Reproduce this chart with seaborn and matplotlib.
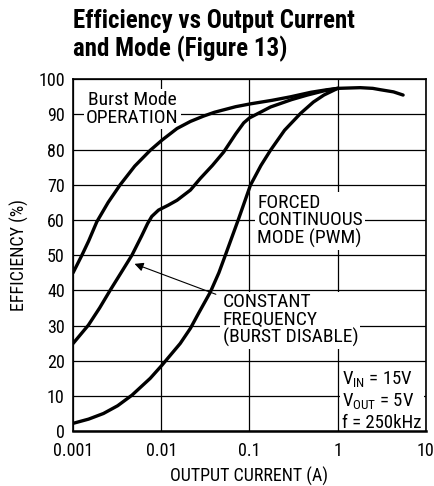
import matplotlib
matplotlib.use("Agg")
import matplotlib.pyplot as plt
import seaborn as sns
import pandas as pd

# Burst Mode operation
burst_x = [0.001, 0.00126, 0.0015, 0.00186, 0.0025, 0.00342, 0.005, 0.0075, 0.0102, 0.0151, 0.0214,
           0.03, 0.04, 0.051, 0.07, 0.1026, 0.18, 0.292, 0.5, 0.75, 1, 1.8, 2.5, 3.08, 4.3, 5.52]
burst_y = [45, 50, 54, 59.5, 65, 70, 75.3, 79.8, 82.7, 86, 88,
           89.5, 90.6, 91.3, 92.2, 93.0, 94.0, 95, 96.3, 97.0, 97.4, 97.6, 97.4, 97.0, 96.4, 95.5]

# constant frequency (burst disable)
const_x = [0.001, 0.00149, 0.002, 0.00263, 0.0035, 0.00465, 0.006, 0.007, 0.0078, 0.0093, 0.012,
           0.0151, 0.0214, 0.0277, 0.038, 0.051, 0.07, 0.0861, 0.1, 0.173, 0.3, 0.453, 0.7, 1]
const_y = [24.9, 30.1, 35, 40, 45, 50, 55.5, 59, 61, 62.8, 64.2,
           65.6, 68.5, 71.8, 75.5, 79.3, 84.5, 87.6, 89, 92.1, 94.2, 95.5, 96.7, 97.4]

# forced continuous mode (PWM)
forced_x = [0.001, 0.0015, 0.00221, 0.0032, 0.00465, 0.0075, 0.0102, 0.0164, 0.0214, 0.0265, 0.036,
            0.045, 0.0533, 0.0755, 0.1026, 0.135, 0.173, 0.25, 0.38, 0.53, 0.698, 1]
forced_y = [2.2, 3.4, 5.0, 7.2, 10.2, 15, 18.75, 24.9, 29.2, 33.5, 39.5,
            45, 50, 60.4, 69.9, 75.5, 79.8, 85.5, 90.3, 93.5, 95.5, 97.4]

x_ticks = [0.001, 0.01, 0.1, 1, 10]
x_labels = ["0.001", "0.01", "0.1", "1", "10"]
y_ticks = list(range(0, 101, 10))

sns.set_theme(style="white")
plt.rcParams['font.family'] = ['Roboto Condensed', 'DejaVu Sans']
plt.rcParams['mathtext.fontset'] = 'custom'
plt.rcParams['mathtext.rm'] = 'Roboto Condensed'

fig = plt.figure(figsize=(4.35, 4.86), dpi=100)
ax = fig.add_axes([0.168, 0.113, 0.811, 0.724])

for xs, ys in [(burst_x, burst_y), (const_x, const_y), (forced_x, forced_y)]:
    df = pd.DataFrame({'x': xs, 'y': ys})
    sns.lineplot(data=df, x='x', y='y', ax=ax, color='black', lw=2.4, zorder=3)

ax.set_xscale('log')
ax.set_xlim(0.001, 10)
ax.set_ylim(0, 100)
ax.set_xticks(x_ticks)
ax.set_xticklabels(x_labels)
ax.set_yticks(y_ticks)
ax.minorticks_off()
ax.tick_params(length=0, labelsize=13, pad=6, colors='black')
ax.tick_params(axis='x', pad=8)
ax.grid(True, which='major', color='black', lw=0.9)
for s in ax.spines.values():
    s.set_color('black')
    s.set_linewidth(1.2)
ax.spines['bottom'].set_linewidth(1.8)

ax.set_xlabel('OUTPUT CURRENT (A)', fontsize=13, labelpad=5, color='black')
ax.set_ylabel('EFFICIENCY (%)', fontsize=13, labelpad=6.5, color='black')

box = dict(fc='white', ec='none', pad=1.5)
ax.text(0.0047, 91.5, 'Burst Mode\nOPERATION', ha='center', va='center', fontsize=14,
        linespacing=0.95, bbox=box, zorder=2, color='black')
ax.text(0.123, 59.7, 'FORCED\nCONTINUOUS\nMODE (PWM)', ha='left', va='center', fontsize=14,
        linespacing=0.95, bbox=box, zorder=2, color='black')
ax.text(0.0495, 31.5, 'CONSTANT\nFREQUENCY\n(BURST DISABLE)', ha='left', va='center', fontsize=14,
        linespacing=0.95, bbox=box, zorder=2, color='black')
ax.text(1.12, 8.6, 'V$_{\\mathrm{IN}}$ = 15V\nV$_{\\mathrm{OUT}}$ = 5V\nf = 250kHz', ha='left', va='center',
        fontsize=13.5, linespacing=1.1, bbox=box, zorder=2, color='black')
ax.annotate('', xy=(0.00465, 47.8), xytext=(0.0445, 38.6),
            arrowprops=dict(arrowstyle='-|>', color='black', lw=0.8, mutation_scale=13), zorder=4)

fig.text(0.168, 0.982, 'Efficiency vs Output Current\nand Mode (Figure 13)', ha='left', va='top',
         fontsize=18, fontweight='bold', linespacing=1.15, color='black')

fig.savefig('out.png', dpi=100)
